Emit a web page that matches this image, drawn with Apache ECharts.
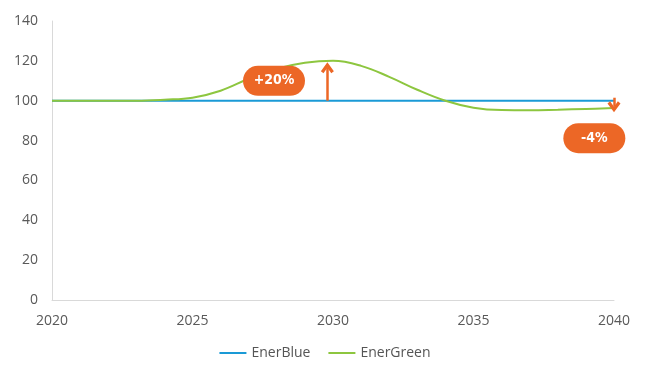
<!DOCTYPE html>
<html><head><meta charset="utf-8">
<script src="https://cdn.jsdelivr.net/npm/echarts@6/dist/echarts.min.js"></script>
<style>html,body{margin:0;padding:0;background:#fff}#c{width:650px;height:371px}</style>
</head><body><div id="c"></div>
<script>
const years = [2020,2021,2022,2023,2024,2025,2026,2027,2028,2029,2030,2031,2032,2033,2034,2035,2036,2037,2038,2039,2040];
const enerBlue = [100,100,100,100,100,100,100,100,100,100,100,100,100,100,100,100,100,100,100,100,100];
const enerGreen = [100,100,100,100,100.5,101.5,105,111,116,119,120,117.5,112,105.5,100,96.5,95.3,95.2,95.5,95.9,96.3];
const yTicks = [0,20,40,60,80,100,120,140];
const xTicks = [2020,2025,2030,2035,2040];
const badges = [{text:'+20%', x:2027.9, y:110},{text:'-4%', x:2039.3, y:81.2}];
const arrows = [{x:2029.8, from:100, to:116.5},{x:2040, from:101.5, to:97}];

const orange = '#EC6726';
const chevron = 'path://M0,8 L6,0 L12,8 L9.6,10 L6,5 L2.4,10 Z';
const pairs = (a) => years.map((y,i)=>[y,a[i]]);
const chart = echarts.init(document.getElementById('c'));
chart.setOption({
  animation:false,
  grid:{left:52,right:36,top:21,bottom:71},
  legend:{bottom:6,left:'center',itemWidth:27,itemHeight:2,itemGap:18,icon:'rect',
    textStyle:{color:'#555',fontSize:14,fontFamily:'Open Sans'},data:['EnerBlue','EnerGreen']},
  xAxis:{type:'value',min:2020,max:2040,interval:5,
    axisLine:{show:true,lineStyle:{color:'#d9d9d9'}},axisTick:{show:false},splitLine:{show:false},
    axisLabel:{color:'#595959',fontSize:14,fontFamily:'Open Sans',margin:14,
      formatter:v=>xTicks.includes(v)?String(v):''}},
  yAxis:{type:'value',min:0,max:140,interval:20,
    axisLine:{show:true,lineStyle:{color:'#d9d9d9'}},axisTick:{show:false},splitLine:{show:false},
    axisLabel:{color:'#595959',fontSize:14,fontFamily:'Open Sans',margin:14,
      formatter:v=>yTicks.includes(v)?String(v):''}},
  series:[
    {name:'EnerBlue',type:'line',data:pairs(enerBlue),symbol:'none',
      lineStyle:{color:'#1A9AD6',width:2},itemStyle:{color:'#1A9AD6'}},
    {name:'EnerGreen',type:'line',data:pairs(enerGreen),symbol:'none',smooth:0.4,clip:false,
      lineStyle:{color:'#8DC63F',width:2},itemStyle:{color:'#8DC63F'},
      markLine:{silent:true,symbol:['none',chevron],symbolSize:[13,11],
        lineStyle:{color:orange,width:2.5,type:'solid'},label:{show:false},
        data:arrows.map(a=>[{coord:[a.x,a.from]},{coord:[a.x,a.to]}])},
      markPoint:{silent:true,symbol:'circle',symbolSize:1,itemStyle:{color:'rgba(0,0,0,0)'},
        label:{show:true,position:'inside',color:'#fff',fontWeight:'bold',fontSize:14,
          fontFamily:'Liberation Sans Narrow, DejaVu Sans Condensed, Open Sans',backgroundColor:orange,
          borderRadius:15,width:62,height:30,lineHeight:30,align:'center',
          formatter:p=>p.name},
        data:badges.map(b=>({name:b.text,coord:[b.x,b.y]}))}
    }
  ]
});
</script></body></html>
